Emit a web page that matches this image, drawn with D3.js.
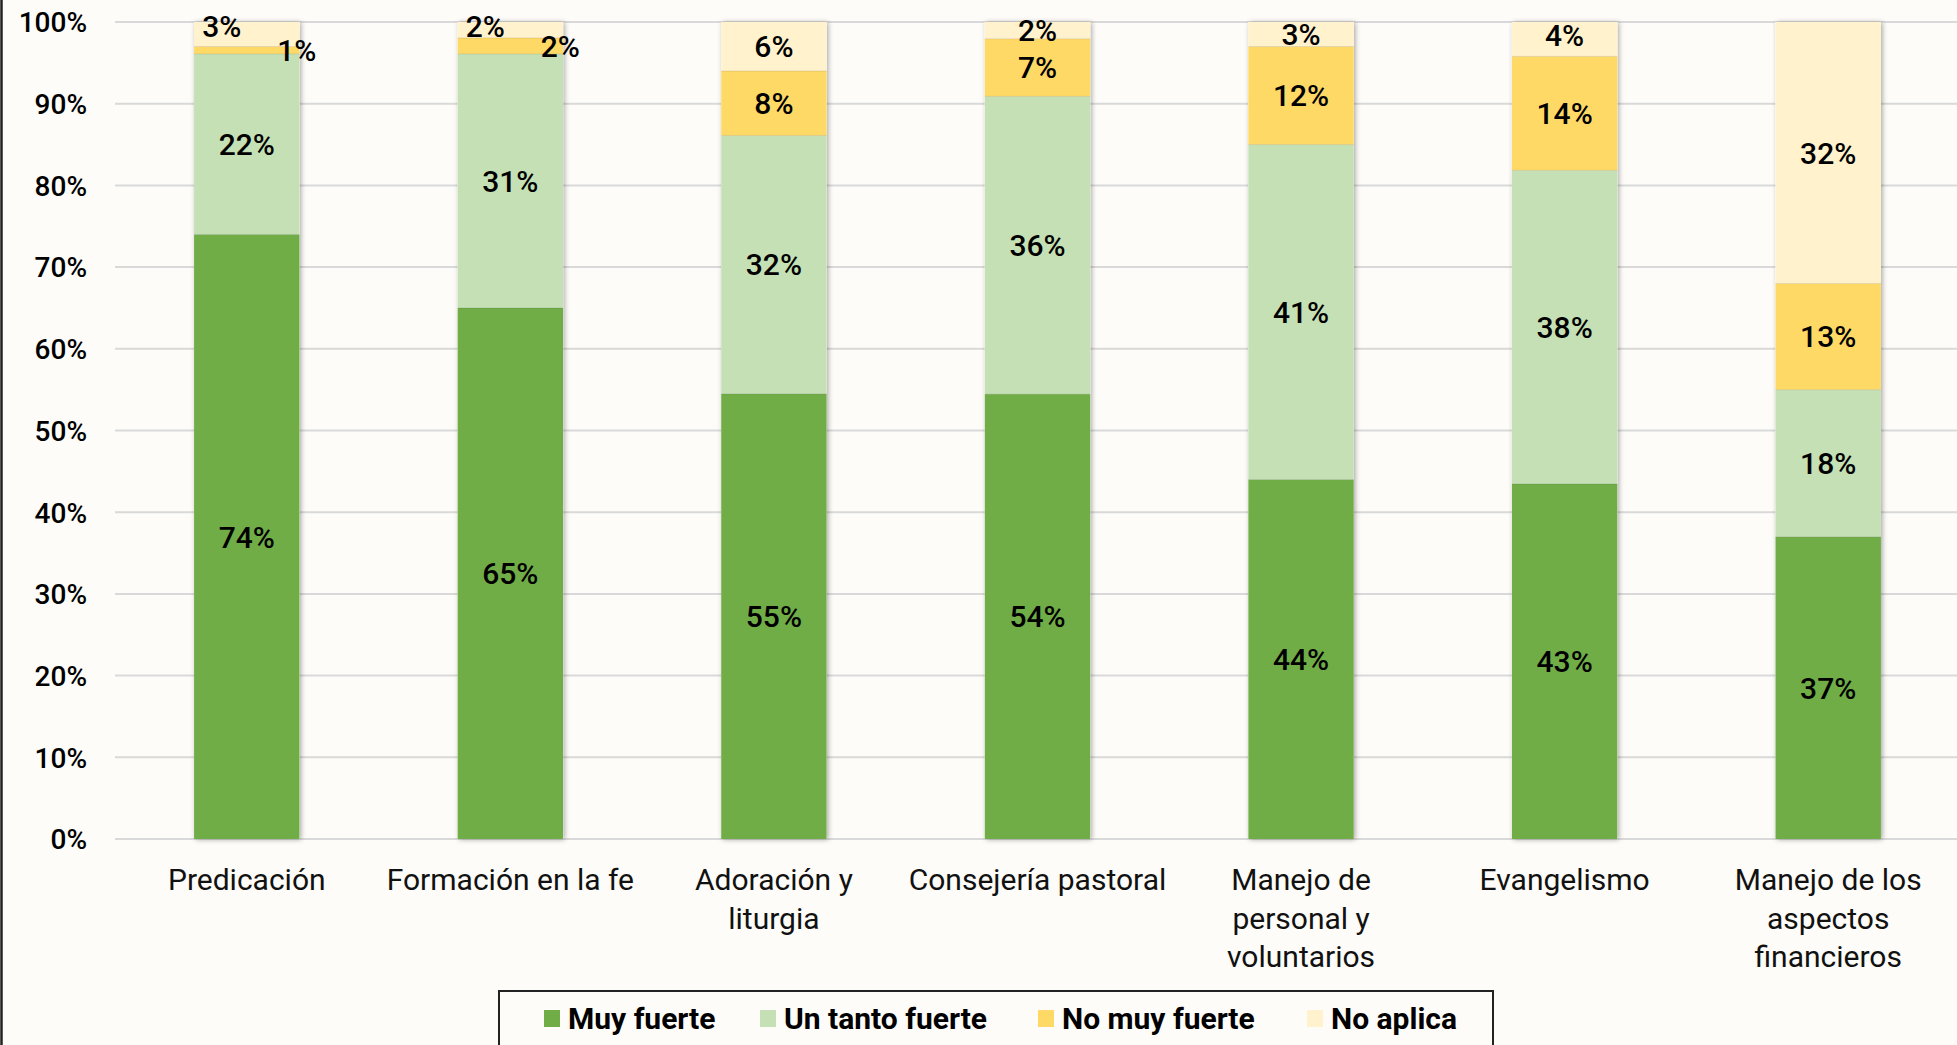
<!DOCTYPE html>
<html>
<head>
<meta charset="utf-8">
<script src="https://cdn.jsdelivr.net/npm/d3@7"></script>
<style>
  html, body { margin: 0; padding: 0; background: #fdfcf8; }
  svg { display: block; }
</style>
</head>
<body>
<svg id="chart" width="1957" height="1045"></svg>
<script>
// ---- Data ----
const categories = [
  "Predicación",
  "Formación en la fe",
  "Adoración y liturgia",
  "Consejería pastoral",
  "Manejo de personal y voluntarios",
  "Evangelismo",
  "Manejo de los aspectos financieros"
];
const categoryLines = [
  ["Predicación"],
  ["Formación en la fe"],
  ["Adoración y", "liturgia"],
  ["Consejería pastoral"],
  ["Manejo de", "personal y", "voluntarios"],
  ["Evangelismo"],
  ["Manejo de los", "aspectos", "financieros"]
];
const seriesNames = ["Muy fuerte", "Un tanto fuerte", "No muy fuerte", "No aplica"];
const muyFuerte     = [74.0, 65.0, 54.5, 54.45, 44.0, 43.45, 37.0];
const unTantoFuerte = [22.1, 31.1, 31.6, 36.45, 41.0, 38.4, 18.0];
const noMuyFuerte   = [0.9, 1.95, 7.9, 7.05, 12.0, 13.95, 13.0];
const noAplica      = [3.0, 1.95, 6.0, 2.05, 3.0, 4.2, 32.0];
const yTicks = [0, 10, 20, 30, 40, 50, 60, 70, 80, 90, 100];

// ---- Styles ----
const colors = ["#70ad47", "#c5e0b4", "#ffd966", "#fff2cc"];
const FONT = "Roboto, 'Liberation Sans', sans-serif";

const seriesValues = [muyFuerte, unTantoFuerte, noMuyFuerte, noAplica];
const rows = categories.map((c, i) => {
  const r = { category: c };
  seriesNames.forEach((s, k) => r[s] = seriesValues[k][i]);
  return r;
});
const stacked = d3.stack().keys(seriesNames)(rows);

const svg = d3.select("#chart");

// drop shadow filter
const defs = svg.append("defs");
const f = defs.append("filter").attr("id", "shadow")
  .attr("x", "-20%").attr("y", "-5%").attr("width", "140%").attr("height", "110%");
f.append("feDropShadow").attr("dx", 1.5).attr("dy", 0.5)
  .attr("stdDeviation", 2.5).attr("flood-color", "#000").attr("flood-opacity", 0.35);

const plotLeft = 115, plotRight = 1960;
const x = d3.scaleBand().domain(categories).range([plotLeft, plotRight])
  .paddingInner(0.6).paddingOuter(0.3);
const y = d3.scaleLinear().domain([0, 100]).range([839, 22]);

// left border line
svg.append("line").attr("x1", 1.5).attr("x2", 1.5).attr("y1", 0).attr("y2", 1045)
  .attr("stroke", "#222").attr("stroke-width", 2.5);

// gridlines
svg.append("g").selectAll("line").data(yTicks).join("line")
  .attr("x1", plotLeft).attr("x2", 1957)
  .attr("y1", d => y(d)).attr("y2", d => y(d))
  .attr("stroke", "#d9d9d9").attr("stroke-width", 2);

// y axis labels
const yAxis = d3.axisLeft(y).tickValues(yTicks).tickFormat(d => d + "%").tickSize(0).tickPadding(0);
const yg = svg.append("g").attr("transform", "translate(87,0)").call(yAxis);
yg.select(".domain").remove();
yg.selectAll("text").attr("font-family", FONT).attr("font-size", 28)
  .attr("font-weight", 500).attr("fill", "#000").attr("dy", "0.35em");

// bars
const barsG = svg.append("g");
categories.forEach((c, i) => {
  barsG.append("rect")
    .attr("x", x(c)).attr("width", x.bandwidth())
    .attr("y", y(100)).attr("height", y(0) - y(100))
    .attr("fill", "#fff").attr("filter", "url(#shadow)");
});
stacked.forEach((layer, k) => {
  barsG.append("g").selectAll("rect").data(layer).join("rect")
    .attr("x", d => x(d.data.category))
    .attr("width", x.bandwidth())
    .attr("y", d => y(d[1]))
    .attr("height", d => y(d[0]) - y(d[1]))
    .attr("fill", colors[k]);
});
// subtle separators between segments
stacked.slice(0, 3).forEach((layer, k) => {
  barsG.append("g").selectAll("line").data(layer).join("line")
    .attr("x1", d => x(d.data.category)).attr("x2", d => x(d.data.category) + x.bandwidth())
    .attr("y1", d => y(d[1])).attr("y2", d => y(d[1]))
    .attr("stroke", "rgba(0,0,0,0.1)").attr("stroke-width", 1);
});

// data label offsets for crowded small segments (series index, category index) -> [dx, dy]
const labelNudge = {
  "3-0": [-25, -8], "2-0": [50, 0],
  "3-1": [-25, -4], "2-1": [50, 0],
  "3-5": [0, -4]
};
const labelsG = svg.append("g");
stacked.forEach((layer, k) => {
  layer.forEach((d, i) => {
    const nudge = labelNudge[k + "-" + i] || [0, 0];
    const cx = x(d.data.category) + x.bandwidth() / 2 + nudge[0];
    const cy = (y(d[0]) + y(d[1])) / 2 + nudge[1];
    labelsG.append("text")
      .attr("x", cx).attr("y", cy).attr("dy", "0.36em")
      .attr("text-anchor", "middle")
      .attr("font-family", FONT).attr("font-size", 30).attr("font-weight", 500)
      .attr("fill", "#000")
      .text(Math.round(d[1] - d[0]) + "%");
  });
});

// x category labels
const xg = svg.append("g");
categories.forEach((c, i) => {
  const t = xg.append("text")
    .attr("x", x(c) + x.bandwidth() / 2).attr("y", 890)
    .attr("text-anchor", "middle")
    .attr("font-family", FONT).attr("font-size", 30).attr("fill", "#111");
  categoryLines[i].forEach((ln, j) => {
    t.append("tspan").attr("x", x(c) + x.bandwidth() / 2).attr("dy", j === 0 ? 0 : 38.5).text(ln);
  });
});

// legend
const lg = svg.append("g");
lg.append("rect").attr("x", 499).attr("y", 991).attr("width", 994).attr("height", 70)
  .attr("fill", "#fdfcf8").attr("stroke", "#222").attr("stroke-width", 2);
const legendX = [544, 760, 1038, 1307];
seriesNames.forEach((s, k) => {
  lg.append("rect").attr("x", legendX[k]).attr("y", 1010).attr("width", 16).attr("height", 17)
    .attr("fill", colors[k]);
  lg.append("text").attr("x", legendX[k] + 24).attr("y", 1018).attr("dy", "0.36em")
    .attr("font-family", FONT).attr("font-size", 30).attr("font-weight", 700)
    .attr("fill", "#000").text(s);
});
</script>
</body>
</html>
